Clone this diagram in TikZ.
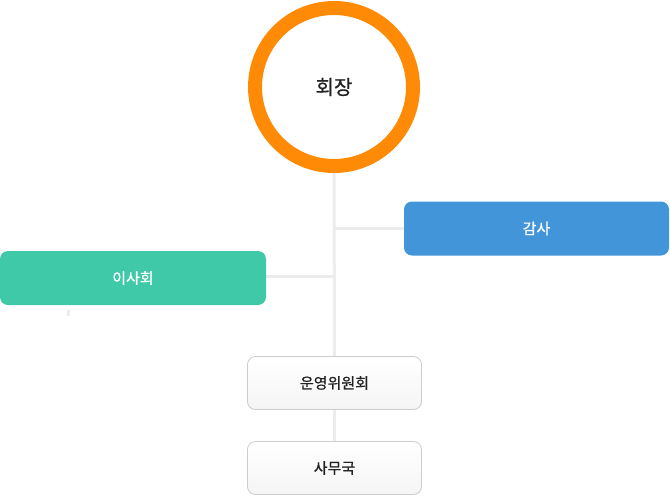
\documentclass[tikz,border=0pt]{standalone}
\usepackage{fontspec}
\setmainfont{Noto Sans CJK KR}
\newfontfamily\kmed{Noto Sans CJK KR}[FakeBold=0.7]
\usepackage{tikz}
\usetikzlibrary{backgrounds}

\definecolor{ringorange}{RGB}{255,138,5}
\definecolor{auditblue}{RGB}{65,149,216}
\definecolor{boardgreen}{RGB}{63,201,169}
\definecolor{linegray}{RGB}{236,236,236}
\definecolor{boxline}{RGB}{204,204,204}
\definecolor{textdark}{RGB}{34,34,34}

\tikzset{
  colorbox/.style={rounded corners=8pt, minimum height=54pt, text=white, font=\kmed\fontsize{15}{18}\selectfont},
  whitebox/.style={rounded corners=8pt, draw=boxline, line width=0.8pt, top color=white, bottom color=black!4,
    minimum width=174pt, minimum height=53pt, text=textdark, font=\kmed\fontsize{15}{18}\selectfont},
  link/.style={linegray, line width=3pt}
}

\begin{document}
\begin{tikzpicture}[x=1pt,y=-1pt]
    \useasboundingbox (0,0) rectangle (670,496);
    \node[circle, draw=ringorange, line width=14pt, fill=white, minimum size=158pt, text=textdark,
        font=\kmed\fontsize{20}{24}\selectfont] (chair) at (334,87) {회장};
    \node[colorbox, fill=auditblue, minimum width=265pt] (audit) at (536.5,228.5) {감사};
    \node[colorbox, fill=boardgreen, minimum width=266pt] (board) at (133,278) {이사회};
    \node[whitebox] (ops) at (334.5,383) {운영위원회};
    \node[whitebox] (office) at (334.5,468) {사무국};
    \coordinate (j1) at (334,228);
    \coordinate (j2) at (334,276);
    \begin{pgfonlayer}{background}
        \draw[link] (chair.south) -- (ops.north);
        \draw[link] (j1) -- (j1 -| audit.west);
        \draw[link] (j2) -- (j2 -| board.east);
        \draw[link] (ops.south) -- (office.north);
    \end{pgfonlayer}
    \fill[linegray] (67,310) rectangle (70,316);
\end{tikzpicture}
\end{document}
